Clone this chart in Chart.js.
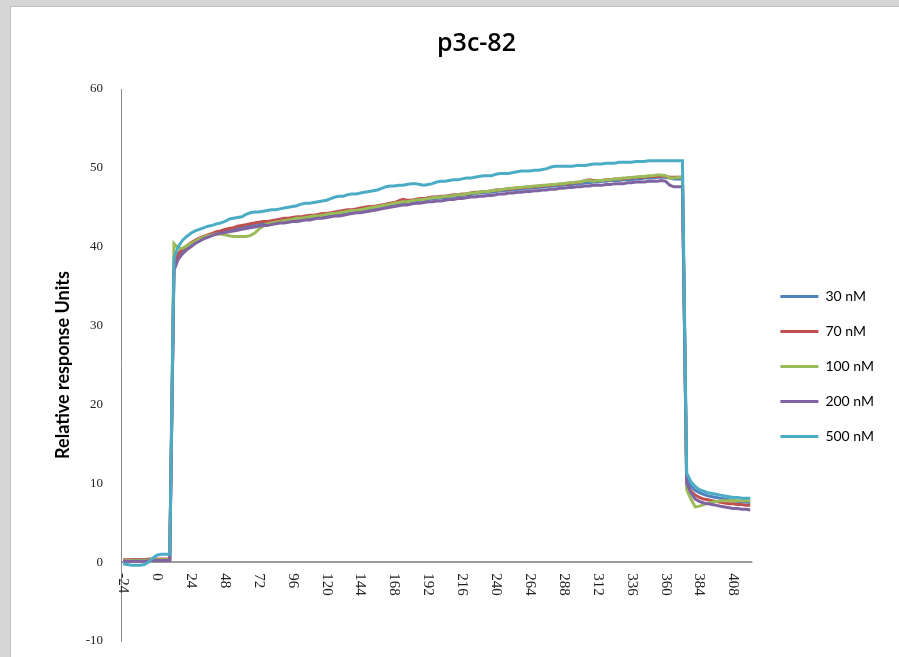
<!DOCTYPE html>
<html>
<head>
<meta charset="utf-8">
<script src="https://cdn.jsdelivr.net/npm/chart.js@4.4.1/dist/chart.umd.min.js"></script>
<style>
    body { margin: 0; background: #d6d6d6; }
    #panel { position: absolute; left: 10px; top: 6px; width: 900px; height: 660px; background: #fff; border-left: 1px solid #bdbdbd; border-top: 1px solid #bdbdbd; }
    #wrap { position: absolute; left: 0; top: 0; width: 899px; height: 657px; }
</style>
</head>
<body>
<div id="panel"></div>
<div id="wrap"><canvas id="lineChart"></canvas></div>
<script>
// time points (s)
var times = [-24,-21,-18,-15,-12,-9,-6,-3,0,3,6,9,12,15,18,21,24,27,30,33,36,39,42,45,48,51,54,57,60,63,66,69,72,75,78,81,84,87,90,93,96,99,102,105,108,111,114,117,120,123,126,129,132,135,138,141,144,147,150,153,156,159,162,165,168,171,174,177,180,183,186,189,192,195,198,201,204,207,210,213,216,219,222,225,228,231,234,237,240,243,246,249,252,255,258,261,264,267,270,273,276,279,282,285,288,291,294,297,300,303,306,309,312,315,318,321,324,327,330,333,336,339,342,345,348,351,354,357,360,363,366,369,372,375,378,381,384,387,390,393,396,399,402,405,408,411,414,417,420];

var seriesNames = ["30 nM", "70 nM", "100 nM", "200 nM", "500 nM"];

var s30 = [0.2,0.2,0.3,0.3,0.3,0.3,0.3,0.3,0.3,0.3,0.3,0.3,
    37.5,38.8,39.5,39.9,40.3,40.6,40.9,41.1,41.3,41.5,
    41.6,41.8,41.9,42.0,42.1,42.3,42.4,42.5,42.6,42.7,
    42.8,42.9,42.9,43.0,43.1,43.2,43.3,43.3,43.4,43.5,
    43.6,43.6,43.7,43.8,43.9,43.9,44.0,44.1,44.2,44.2,
    44.3,44.4,44.5,44.5,44.6,44.7,44.8,44.9,45.0,45.1,
    45.2,45.3,45.4,45.5,45.6,45.6,45.7,45.8,45.9,45.9,
    46.0,46.1,46.1,46.2,46.2,46.3,46.4,46.4,46.5,46.6,
    46.6,46.7,46.8,46.8,46.9,46.9,47.0,47.1,47.1,47.2,
    47.2,47.3,47.3,47.4,47.4,47.5,47.5,47.6,47.6,47.7,
    47.7,47.8,47.8,47.9,47.9,48.0,48.0,48.1,48.1,48.2,
    48.2,48.3,48.3,48.4,48.4,48.4,48.5,48.5,48.5,48.6,
    48.6,48.7,48.7,48.7,48.8,48.8,48.8,48.7,48.6,48.6,
    48.6,
    10.6,9.6,9.1,8.8,8.6,8.4,8.3,8.2,8.1,8.0,7.9,7.8,7.7,7.7,7.6,7.6];

var s70 = [0.3,0.3,0.3,0.3,0.3,0.3,0.4,0.4,0.4,0.4,0.4,0.4,
    37.9,39.1,39.7,40.1,40.5,40.8,41.1,41.3,41.5,41.7,
    41.9,42.0,42.2,42.3,42.4,42.6,42.7,42.8,42.9,43.0,
    43.1,43.2,43.2,43.3,43.4,43.5,43.6,43.6,43.7,43.8,
    43.8,43.9,44.0,44.0,44.1,44.2,44.2,44.3,44.4,44.5,
    44.6,44.7,44.7,44.8,44.9,45.0,45.1,45.1,45.2,45.3,
    45.4,45.5,45.6,45.8,46.0,45.9,45.9,46.0,46.1,46.1,
    46.2,46.3,46.3,46.4,46.4,46.5,46.6,46.6,46.7,46.7,
    46.8,46.9,46.9,47.0,47.0,47.1,47.2,47.2,47.3,47.3,
    47.4,47.4,47.5,47.5,47.6,47.6,47.7,47.7,47.8,47.8,
    47.9,47.9,48.0,48.0,48.1,48.1,48.2,48.4,48.5,48.4,
    48.4,48.4,48.5,48.5,48.6,48.6,48.6,48.7,48.7,48.8,
    48.8,48.8,48.9,48.9,48.9,49.0,48.9,48.8,48.8,48.8,
    48.8,
    9.8,9.0,8.5,8.2,8.0,7.9,7.8,7.7,7.6,7.5,7.4,7.4,7.3,7.3,7.2,7.2];

var s100 = [0.2,0.2,0.2,0.2,0.2,0.2,0.3,0.3,0.3,0.3,0.3,0.3,
    40.4,39.8,39.8,40.1,40.4,40.7,41.0,41.2,41.4,41.5,
    41.6,41.6,41.5,41.4,41.3,41.3,41.3,41.3,41.4,41.7,
    42.2,42.6,42.9,43.0,43.1,43.2,43.3,43.4,43.5,43.6,
    43.6,43.7,43.8,43.9,43.9,44.0,44.1,44.2,44.2,44.3,
    44.4,44.5,44.6,44.6,44.7,44.8,44.9,45.0,45.1,45.2,
    45.3,45.4,45.5,45.6,45.7,45.7,45.8,45.9,46.0,46.0,
    46.1,46.2,46.2,46.3,46.4,46.4,46.5,46.6,46.6,46.7,
    46.8,46.8,46.9,47.0,47.0,47.1,47.2,47.2,47.3,47.4,
    47.4,47.5,47.5,47.6,47.6,47.7,47.7,47.8,47.8,47.9,
    47.9,48.0,48.0,48.1,48.1,48.2,48.2,48.4,48.4,48.3,
    48.4,48.4,48.5,48.5,48.6,48.6,48.7,48.7,48.8,48.8,
    48.9,48.9,49.0,49.0,49.1,49.1,49.0,48.7,48.7,48.8,
    48.8,
    9.2,8.0,7.0,7.1,7.3,7.5,7.6,7.7,7.8,7.8,7.8,7.8,7.8,7.8,7.8,7.8];

var s200 = [0.1,0.1,0.1,0.1,0.1,0.1,0.2,0.2,0.2,0.2,0.2,0.2,
    37.0,38.4,39.1,39.6,40.0,40.4,40.7,41.0,41.2,41.4,
    41.6,41.7,41.8,41.9,42.0,42.1,42.2,42.3,42.4,42.5,
    42.6,42.7,42.7,42.8,42.9,43.0,43.0,43.1,43.2,43.2,
    43.3,43.4,43.4,43.5,43.6,43.6,43.7,43.8,43.9,43.9,
    44.0,44.1,44.2,44.3,44.3,44.4,44.5,44.6,44.7,44.8,
    44.9,45.0,45.1,45.2,45.3,45.3,45.4,45.5,45.5,45.6,
    45.7,45.7,45.8,45.8,45.9,46.0,46.0,46.1,46.1,46.2,
    46.3,46.3,46.4,46.4,46.5,46.5,46.6,46.7,46.7,46.8,
    46.8,46.9,46.9,47.0,47.0,47.1,47.1,47.2,47.2,47.3,
    47.3,47.4,47.4,47.5,47.5,47.6,47.6,47.7,47.7,47.8,
    47.8,47.8,47.9,47.9,48.0,48.0,48.0,48.1,48.1,48.2,
    48.2,48.2,48.3,48.3,48.3,48.4,48.3,47.8,47.6,47.6,
    47.6,
    10.0,8.8,8.0,7.7,7.5,7.4,7.3,7.2,7.1,7.0,6.9,6.8,6.8,6.7,6.7,6.6];

var s500 = [-0.2,-0.3,-0.4,-0.4,-0.4,-0.3,0.0,0.5,0.9,1.0,1.0,1.0,
    38.5,40.0,40.8,41.3,41.7,42.0,42.2,42.4,42.6,42.7,
    42.9,43.0,43.2,43.5,43.6,43.7,43.8,44.1,44.3,44.4,
    44.4,44.5,44.6,44.7,44.7,44.8,44.9,45.0,45.1,45.2,
    45.4,45.5,45.5,45.6,45.7,45.8,45.9,46.1,46.3,46.4,
    46.4,46.6,46.7,46.7,46.8,46.9,47.0,47.1,47.2,47.4,
    47.6,47.7,47.7,47.8,47.8,47.9,48.0,48.0,47.9,47.8,
    47.9,48.0,48.2,48.3,48.3,48.4,48.5,48.5,48.6,48.7,
    48.7,48.8,48.9,49.0,49.0,49.0,49.2,49.3,49.3,49.3,
    49.4,49.5,49.6,49.6,49.6,49.7,49.7,49.8,49.9,50.1,
    50.2,50.2,50.2,50.2,50.2,50.3,50.3,50.3,50.4,50.5,
    50.5,50.5,50.6,50.6,50.6,50.7,50.7,50.7,50.7,50.8,
    50.8,50.8,50.9,50.9,50.9,50.9,50.9,50.9,50.9,50.9,
    50.9,
    11.3,10.2,9.6,9.2,9.0,8.8,8.7,8.6,8.5,8.4,8.3,8.2,8.2,8.1,8.1,8.1];

var lineColors = ["#4F81BD", "#C0504D", "#9BBB59", "#8064A2", "#4BACC6"];

// x labels are drawn on the zero line, reading top to bottom like Excel
var xLabelPlugin = {
    id: 'xLabels',
    afterDraw: function(chart)
    {
        var ctx = chart.ctx;
        var xs = chart.scales.x;
        var y0 = chart.scales.y.getPixelForValue(0) + 11;
        ctx.save();
        ctx.font = '15px "Liberation Serif"';
        ctx.fillStyle = '#222';
        ctx.textAlign = 'left';
        ctx.textBaseline = 'middle';
        for (var i = 0; i < times.length; i++) {
            if (times[i] % 24 !== 0) continue;
            ctx.save();
            ctx.translate(xs.getPixelForValue(i), y0);
            ctx.rotate(Math.PI / 2);
            ctx.fillText(String(times[i]), 0, 0);
            ctx.restore();
        }
        ctx.restore();
    }
};

// nudge legend and title where Excel had them
var boxShift = {
    id: 'boxShift',
    afterLayout: function(chart)
    {
        chart.legend.left += 7;
        chart.legend.right += 7;
        chart.legend.top += 46;
        chart.legend.bottom += 46;
        chart.titleBlock.left += 12;
        chart.titleBlock.right += 12;
    }
};

function LineChart()
{
    var all = [s30, s70, s100, s200, s500];
    var datasets = all.map(function(d, i) {
        return {
            label: seriesNames[i],
            data: d,
            borderColor: lineColors[i],
            backgroundColor: lineColors[i],
            borderWidth: 3,
            pointRadius: 0,
            tension: 0,
            fill: false,
            order: all.length - i
        };
    });

    new Chart("lineChart", {
        type: "line",
        data: {
            labels: times,
            datasets: datasets
        },
        plugins: [xLabelPlugin, boxShift],
        options: {
            maintainAspectRatio: false,
            responsive: true,
            animation: false,
            layout: { padding: { left: 52, right: 22, top: 0, bottom: 16 } },
            plugins: {
                tooltip: { enabled: false },
                title: {
                    display: true,
                    text: "p3c-82",
                    color: '#000',
                    font: { family: "'Open Sans', sans-serif", size: 25, weight: '600' },
                    padding: { top: 29, bottom: 30 }
                },
                legend: {
                    position: 'right',
                    display: true,
                    labels: {
                        usePointStyle: true,
                        pointStyle: 'line',
                        pointStyleWidth: 38,
                        padding: 21,
                        color: '#000',
                        font: { family: "Lato, sans-serif", size: 14 },
                        sort: function(a, b) { return a.datasetIndex - b.datasetIndex; }
                    }
                }
            },
            scales: {
                x: {
                    type: 'category',
                    display: false,
                    offset: true
                },
                y: {
                    min: -10,
                    max: 60,
                    afterFit: function(s) { s.width = 69; },
                    ticks: {
                        stepSize: 10,
                        padding: 0,
                        color: '#222',
                        font: { family: "'Liberation Serif', serif", size: 13 }
                    },
                    grid: {
                        drawTicks: true,
                        tickLength: 18,
                        tickColor: 'rgba(0,0,0,0)',
                        lineWidth: 2,
                        color: function(c) { return c.tick && c.tick.value === 0 ? '#9a9a9a' : 'rgba(0,0,0,0)'; }
                    },
                    border: { display: true, color: '#8c8c8c', width: 1 },
                    title: {
                        display: true,
                        text: "Relative response Units",
                        color: '#000',
                        padding: 0,
                        font: { family: "Lato, sans-serif", size: 18, weight: 'bold' }
                    }
                }
            }
        }
    });
}

LineChart();
</script>
</body>
</html>
